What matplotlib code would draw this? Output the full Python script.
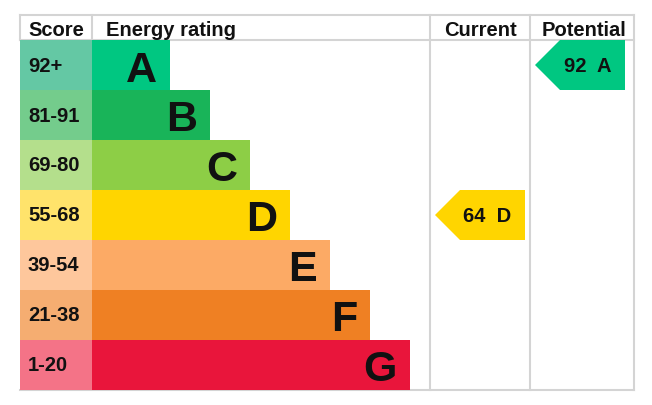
import matplotlib
matplotlib.use("Agg")
import matplotlib.pyplot as plt
from matplotlib.patches import Polygon

plt.rcParams['font.family'] = ['Liberation Sans', 'DejaVu Sans']

# ------------------------------------------------------------
# data
# ------------------------------------------------------------
ratings      = ["A", "B", "C", "D", "E", "F", "G"]
score_labels = ["92+", "81-91", "69-80", "55-68", "39-54", "21-38", "1-20"]
score_lows   = [92, 81, 69, 55, 39, 21, 1]
band_colors  = ["#00c781", "#19b459", "#8dce46", "#ffd500",
                "#fcaa65", "#ef8023", "#e9153b"]
score_colors = ["#64c8a4", "#74cc8c", "#b4df8c", "#ffe36b",
                "#fec79c", "#f5ad71", "#f47387"]
current   = 64
potential = 92

# ------------------------------------------------------------
# layout (pixels)
# ------------------------------------------------------------
W, H = 652, 406
left, top, bottom = 20, 16, 391
header_h = 25
row_h = 50
score_right = 92
cur_left, pot_left, right = 430, 530, 634
bar_base, bar_step = 78, 40
grid_col = "#d4d4d4"
txt_col = "#111111"
fs = 14.5

fig = plt.figure(figsize=(W / 100, H / 100), dpi=100)
ax = fig.add_axes([0, 0, 1, 1])
ax.set_xlim(0, W)
ax.set_ylim(H, 0)
ax.axis('off')

row0 = top + header_h
centers = [row0 + row_h * (i + 0.5) for i in range(len(ratings))]
widths = [bar_base + bar_step * i for i in range(len(ratings))]

# score cells and rating bands
ax.barh(centers, score_right - left, left=left, height=row_h,
        color=score_colors, linewidth=0, zorder=2)
ax.barh(centers, widths, left=score_right, height=row_h,
        color=band_colors, linewidth=0, zorder=2)

for yc, lab, let, w in zip(centers, score_labels, ratings, widths):
    ax.text(28, yc + 5.5, lab, fontsize=fs, fontweight='bold',
            color=txt_col, ha='left', va='baseline', zorder=3)
    ax.text(score_right + w - 13, yc + 15.5, let, fontsize=31,
            fontweight='bold', color=txt_col, ha='right', va='baseline',
            zorder=3)

# grid lines
lw = 1.5
ax.plot([left, right], [top, top], color=grid_col, lw=lw, zorder=1)
ax.plot([left, right], [row0, row0], color=grid_col, lw=lw, zorder=1)
ax.plot([left, right], [bottom, bottom], color=grid_col, lw=lw, zorder=1)
for x in [left, score_right]:
    ax.plot([x, x], [top, row0], color=grid_col, lw=lw, zorder=1)
for x in [cur_left, pot_left, right]:
    ax.plot([x, x], [top, bottom], color=grid_col, lw=lw, zorder=1)

# headers
hy = 36
ax.text(28, hy, "Score", fontsize=fs, fontweight='bold', color=txt_col,
        ha='left', va='baseline')
ax.text(106, hy, "Energy rating", fontsize=fs, fontweight='bold',
        color=txt_col, ha='left', va='baseline')
ax.text((cur_left + pot_left) / 2, hy, "Current", fontsize=fs,
        fontweight='bold', color=txt_col, ha='center', va='baseline')
ax.text((pot_left + right) / 2 + 2, hy, "Potential", fontsize=fs,
        fontweight='bold', color=txt_col, ha='center', va='baseline')


def band_index(score):
    for i, lo in enumerate(score_lows):
        if score >= lo:
            return i
    return len(score_lows) - 1


def draw_arrow(score, col_left, col_right):
    i = band_index(score)
    yc = centers[i]
    y0, y1 = yc - row_h / 2, yc + row_h / 2
    tip = col_left + 5
    body = tip + 25
    end = col_right - 5
    ax.add_patch(Polygon([[tip, yc], [body, y0], [end, y0], [end, y1],
                          [body, y1]], closed=True, color=band_colors[i],
                         lw=0, zorder=2))
    ax.text((body + end) / 2 - 5, yc + 6, f"{score}  {ratings[i]}",
            fontsize=fs, fontweight='bold', color=txt_col, ha='center',
            va='baseline', zorder=3)


draw_arrow(current, cur_left, pot_left)
draw_arrow(potential, pot_left, right - 4)

fig.savefig("out.png", dpi=100)
